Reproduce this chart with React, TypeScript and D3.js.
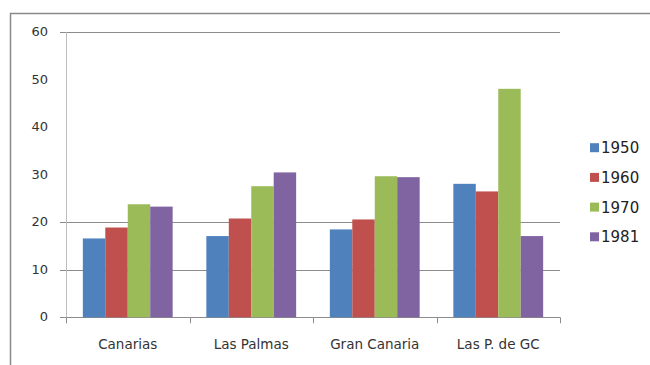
import React, { useEffect, useRef } from "react";
import * as d3 from "d3";

const categories = ["Canarias", "Las Palmas", "Gran Canaria", "Las P. de GC"];
const years = ["1950", "1960", "1970", "1981"];
const values1950 = [16.6, 17.1, 18.5, 28.1];
const values1960 = [18.9, 20.8, 20.6, 26.5];
const values1970 = [23.8, 27.6, 29.7, 48.1];
const values1981 = [23.3, 30.5, 29.5, 17.1];
const yTicks = [0, 10, 20, 30, 40, 50, 60];
const gridValues = [0, 10, 20, 60];
const colors = ["#4F81BD", "#C0504D", "#9BBB59", "#8064A2"];

export default function App() {
  const ref = useRef<SVGSVGElement>(null);

  useEffect(() => {
    const svg = d3.select(ref.current);
    svg.selectAll("*").remove();

    const series = [values1950, values1960, values1970, values1981];
    const left = 66;
    const right = 560;
    const top = 32.3;
    const bottom = 317.3;

    // frame
    svg.append("path")
      .attr("d", "M10.5,365 V13.5 H650")
      .attr("fill", "none")
      .attr("stroke", "#8a8a8a")
      .attr("stroke-width", 1.5);

    const x0 = d3.scaleBand().domain(categories).range([left, right]).paddingInner(0).paddingOuter(0);
    // gap width 150%: 4 bars + 1.5 bar of gap per category
    const x1 = d3.scaleBand().domain(years).range([0, x0.bandwidth()]).paddingInner(0).paddingOuter(0.75);
    const y = d3.scaleLinear().domain([0, 60]).range([bottom, top]);

    // gridlines
    svg.append("g")
      .selectAll("line")
      .data(gridValues)
      .join("line")
      .attr("x1", left - 6)
      .attr("x2", right)
      .attr("y1", (d) => Math.round(y(d)) + 0.5)
      .attr("y2", (d) => Math.round(y(d)) + 0.5)
      .attr("stroke", "#8c8c8c")
      .attr("stroke-width", 1);

    // y axis line
    svg.append("line")
      .attr("x1", left + 0.5)
      .attr("x2", left + 0.5)
      .attr("y1", y(60))
      .attr("y2", bottom + 6)
      .attr("stroke", "#bdbdbd");

    // y labels
    svg.append("g")
      .selectAll("text")
      .data(yTicks)
      .join("text")
      .attr("x", 48)
      .attr("y", (d) => y(d) + 4)
      .attr("text-anchor", "end")
      .attr("font-family", "DejaVu Sans")
      .attr("font-size", 13)
      .attr("fill", "#333")
      .text((d) => d);

    // category ticks
    svg.append("g")
      .selectAll("line")
      .data(d3.range(categories.length + 1))
      .join("line")
      .attr("x1", (i) => Math.round(left + i * x0.step()) + 0.5)
      .attr("x2", (i) => Math.round(left + i * x0.step()) + 0.5)
      .attr("y1", bottom)
      .attr("y2", bottom + 6)
      .attr("stroke", "#8c8c8c");

    // bars
    const groups = svg.append("g")
      .selectAll("g")
      .data(categories)
      .join("g")
      .attr("transform", (d) => `translate(${x0(d)},0)`);

    groups.selectAll("rect")
      .data((_, ci) => series.map((s, si) => ({ year: years[si], value: s[ci], si })))
      .join("rect")
      .attr("x", (d) => x1(d.year)!)
      .attr("width", x1.bandwidth())
      .attr("y", (d) => y(d.value))
      .attr("height", (d) => bottom - y(d.value))
      .attr("fill", (d) => colors[d.si]);

    // x labels
    svg.append("g")
      .selectAll("text")
      .data(categories)
      .join("text")
      .attr("x", (d) => x0(d)! + x0.bandwidth() / 2)
      .attr("y", 349)
      .attr("text-anchor", "middle")
      .attr("font-family", "DejaVu Sans")
      .attr("font-size", 13.5)
      .attr("fill", "#333")
      .text((d) => d);

    // legend
    const legend = svg.append("g")
      .selectAll("g")
      .data(years)
      .join("g")
      .attr("transform", (_, i) => `translate(590,${147.7 + i * 29.7})`);
    legend.append("rect")
      .attr("x", 0)
      .attr("y", -4.5)
      .attr("width", 9)
      .attr("height", 9)
      .attr("fill", (_, i) => colors[i]);
    legend.append("text")
      .attr("x", 11)
      .attr("y", 5.5)
      .attr("font-family", "DejaVu Sans")
      .attr("font-size", 15)
      .attr("fill", "#222")
      .text((d) => d);
  }, []);

  return (
    <svg
      ref={ref}
      width={650}
      height={365}
      style={{ position: "absolute", left: 0, top: 0, background: "#fff" }}
    />
  );
}
